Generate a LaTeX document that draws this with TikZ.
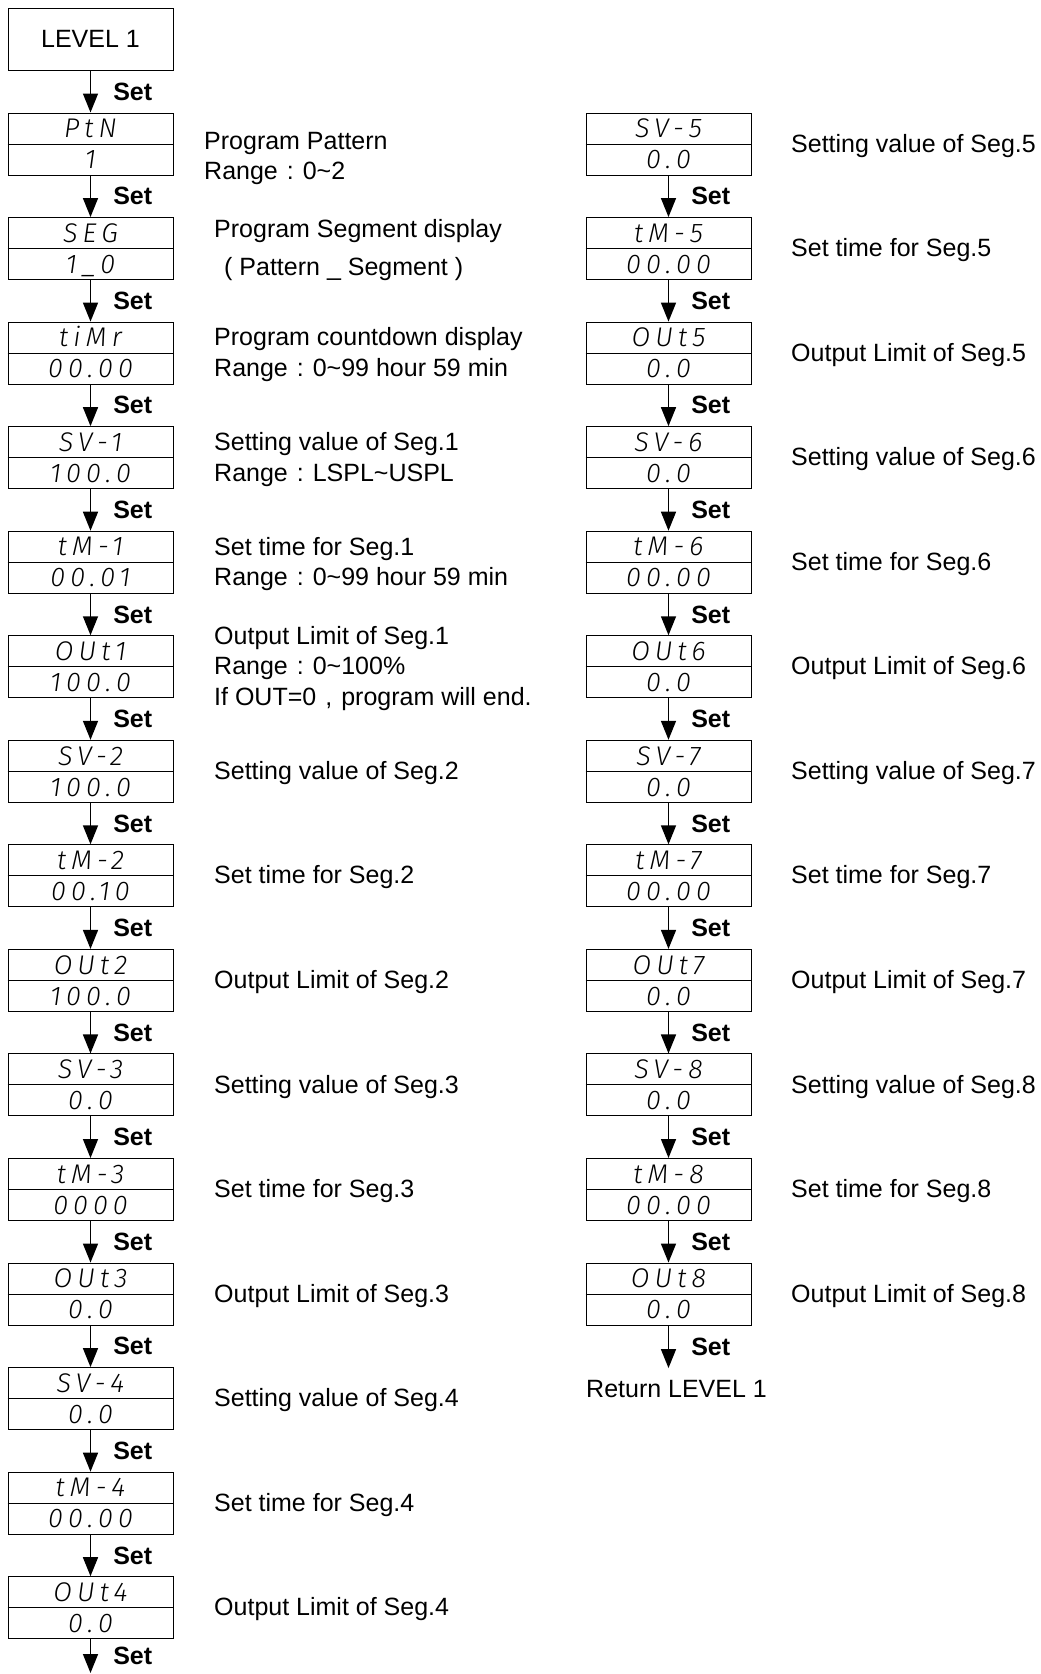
\documentclass[tikz,border=0pt]{standalone}
\usepackage{fontspec}
\setmainfont{Liberation Sans}
\IfFontExistsTF{Fira Sans Light Italic}
  {\newfontfamily\segfont{Fira Sans Light Italic}[LetterSpace=19]}
  {\newfontfamily\segfont{Liberation Sans Italic}[LetterSpace=19]}
\usetikzlibrary{arrows.meta}
\newcommand\fwc{\hspace{0.361em}:\hspace{0.361em}}
\newcommand\fwcomma{\hspace{0.361em},\hspace{0.361em}}
\newcommand\tld{\textasciitilde}
\tikzset{
  dispbox/.style={draw, line width=1pt, minimum width=165pt, minimum height=62pt, inner sep=0pt},
  segtxt/.style={font=\fontsize{27}{27}\segfont, inner sep=0pt, text height=18.5pt, text depth=0pt},
  desc/.style={anchor=north west, inner sep=0pt, align=left, font=\fontsize{25}{30.5}\selectfont},
  setlbl/.style={anchor=west, xshift=22pt, inner sep=0pt, font=\fontsize{25}{25}\selectfont\bfseries},
  arr/.style={line width=1.5pt, -{Triangle[width=15pt,length=19pt]}},
}
\begin{document}
\begin{tikzpicture}[x=1pt, y=-1pt]
\useasboundingbox (0,0) rectangle (1041,1674);
% LEVEL 1
\node[dispbox, font=\fontsize{25}{25}\selectfont] (lv) at (90.5,39) {LEVEL 1};
% left column boxes
\foreach \k/\ta/\tb in {0/PtN/1, 1/SEG/1\_0, 2/tiMr/00.00, 3/SV-1/100.0, 4/tM-1/00.01,
  5/OUt1/100.0, 6/SV-2/100.0, 7/tM-2/00.10, 8/OUt2/100.0, 9/SV-3/0.0, 10/tM-3/0000,
  11/OUt3/0.0, 12/SV-4/0.0, 13/tM-4/00.00, 14/OUt4/0.0}{
  \pgfmathsetmacro\cy{144+104.55*\k}
  \node[dispbox] (L\k) at (90.5,\cy) {};
  \draw[line width=1pt] (L\k.west) -- (L\k.east);
  \node[segtxt] (L\k t) at ([yshift=15.5pt]L\k.center) {\ta};
  \node[segtxt] (L\k v) at ([yshift=-15.5pt]L\k.center) {\tb};
}
% right column boxes
\foreach \k/\ta/\tb in {0/SV-5/0.0, 1/tM-5/00.00, 2/OUt5/0.0, 3/SV-6/0.0, 4/tM-6/00.00,
  5/OUt6/0.0, 6/SV-7/0.0, 7/tM-7/00.00, 8/OUt7/0.0, 9/SV-8/0.0, 10/tM-8/00.00, 11/OUt8/0.0}{
  \pgfmathsetmacro\cy{144+104.55*\k}
  \node[dispbox] (R\k) at (668.5,\cy) {};
  \draw[line width=1pt] (R\k.west) -- (R\k.east);
  \node[segtxt] (R\k t) at ([yshift=15.5pt]R\k.center) {\ta};
  \node[segtxt] (R\k v) at ([yshift=-15.5pt]R\k.center) {\tb};
}
% arrows left
\draw[arr] (lv.south) -- node[setlbl]{Set} (L0.north);
\foreach \k [evaluate=\k as \n using int(\k+1)] in {0,...,13}{
  \draw[arr] (L\k.south) -- node[setlbl]{Set} (L\n.north);
}
\coordinate (Lend) at (90.5,1673);
\draw[arr] (L14.south) -- node[setlbl]{Set} (Lend);
% arrows right
\foreach \k [evaluate=\k as \n using int(\k+1)] in {0,...,10}{
  \draw[arr] (R\k.south) -- node[setlbl]{Set} (R\n.north);
}
\node[anchor=west, inner xsep=0pt, inner ysep=12pt, font=\fontsize{25}{25}\selectfont] (ret) at (586,1389) {Return LEVEL 1};
\draw[arr] (R11.south) -- node[setlbl]{Set} (R11.south |- ret.north);
% descriptions left (multi-line)
\node[desc] (dL0) at (204,131.8) {Program Pattern\\Range\fwc 0\tld 2};
\node[desc] (dL1) at (214,219.3) {Program Segment display\\[7pt]\hspace{10pt}( Pattern \_ Segment )};
\node[desc] (dL2) at (214,327.6) {Program countdown display\\Range\fwc 0\tld 99 hour 59 min};
\node[desc] (dL3) at (214,432.2) {Setting value of Seg.1\\Range\fwc LSPL\tld USPL};
\node[desc] (dL4) at (214,536.7) {Set time for Seg.1\\Range\fwc 0\tld 99 hour 59 min};
\node[desc] (dL5) at (214,626.0) {Output Limit of Seg.1\\Range\fwc 0\tld 100\%\\If OUT=0\fwcomma program will end.};
% descriptions left (single line)
\foreach \k/\txt in {6/Setting value of Seg.2, 7/Set time for Seg.2, 8/Output Limit of Seg.2,
  9/Setting value of Seg.3, 10/Set time for Seg.3, 11/Output Limit of Seg.3,
  12/Setting value of Seg.4, 13/Set time for Seg.4, 14/Output Limit of Seg.4}{
  \pgfmathsetmacro\ny{144+104.55*\k-10.2}
  \node[desc] (dL\k) at (214,\ny) {\txt};
}
% descriptions right
\foreach \k/\txt in {0/Setting value of Seg.5, 1/Set time for Seg.5, 2/Output Limit of Seg.5,
  3/Setting value of Seg.6, 4/Set time for Seg.6, 5/Output Limit of Seg.6,
  6/Setting value of Seg.7, 7/Set time for Seg.7, 8/Output Limit of Seg.7,
  9/Setting value of Seg.8, 10/Set time for Seg.8, 11/Output Limit of Seg.8}{
  \pgfmathsetmacro\ny{144+104.55*\k-10.2}
  \node[desc] (dR\k) at (791,\ny) {\txt};
}
\end{tikzpicture}
\end{document}
